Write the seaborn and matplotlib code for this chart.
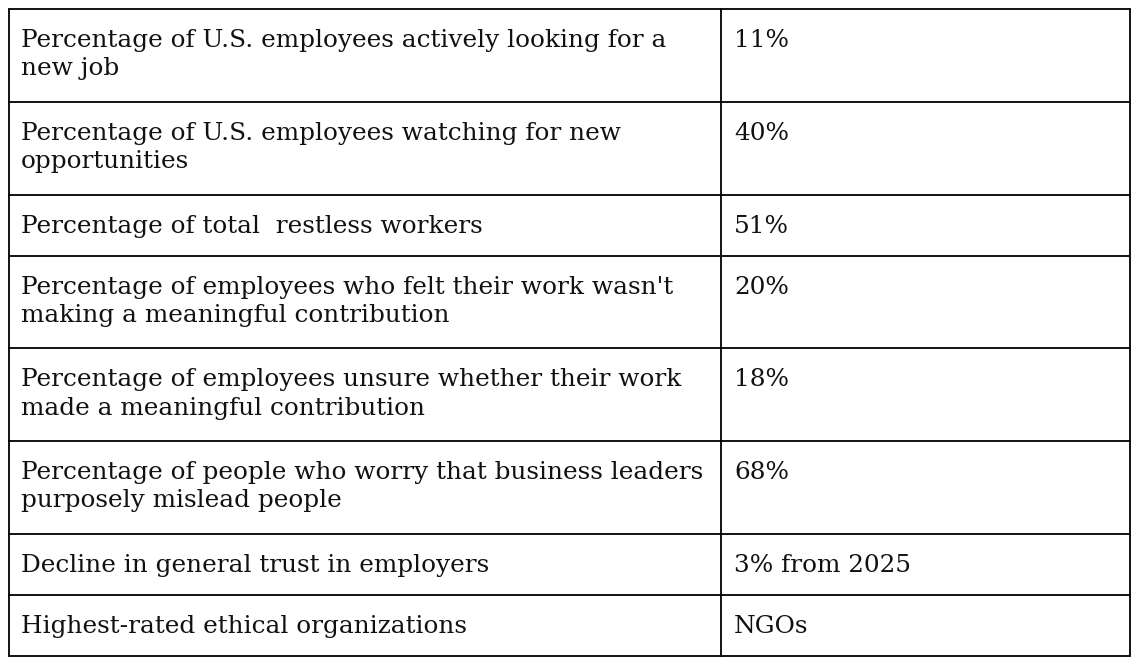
import matplotlib.pyplot as plt
import seaborn as sns

# table contents
labels = [
    "Percentage of U.S. employees actively looking for a\nnew job",
    "Percentage of U.S. employees watching for new\nopportunities",
    "Percentage of total  restless workers",
    "Percentage of employees who felt their work wasn't\nmaking a meaningful contribution",
    "Percentage of employees unsure whether their work\nmade a meaningful contribution",
    "Percentage of people who worry that business leaders\npurposely mislead people",
    "Decline in general trust in employers",
    "Highest-rated ethical organizations",
]
values = ["11%", "40%", "51%", "20%", "18%", "68%", "3% from 2025", "NGOs"]

sns.set_theme(style="white")
plt.rcParams['font.family'] = ['DejaVu Serif', 'Liberation Serif']

W, H = 1138, 666
fig = plt.figure(figsize=(W / 100, H / 100), dpi=100)
ax = fig.add_axes([0, 0, 1, 1])
ax.set_xlim(0, W)
ax.set_ylim(H, 0)
ax.axis('off')

left, mid, right = 9, 721, 1130
top = 9
line_h = 32
pad = 29

y = top
edges = [y]
for lab in labels:
    n = lab.count("\n") + 1
    y += pad + line_h * n
    edges.append(y)
scale = (656 - top) / (edges[-1] - top)
edges = [top + (e - top) * scale for e in edges]

fs = 17.8
for i, (lab, val) in enumerate(zip(labels, values)):
    y0 = edges[i]
    ax.text(left + 12, y0 + 20, lab, fontsize=fs, va='top', ha='left',
            color='#111111', linespacing=1.28)
    ax.text(mid + 13, y0 + 20, val, fontsize=fs, va='top', ha='left',
            color='#111111')

lw = 1.3
for e in edges:
    ax.plot([left, right], [e, e], color='black', lw=lw)
for x in (left, mid, right):
    ax.plot([x, x], [edges[0], edges[-1]], color='black', lw=lw)

fig.savefig("out.png", dpi=100, facecolor='white')
